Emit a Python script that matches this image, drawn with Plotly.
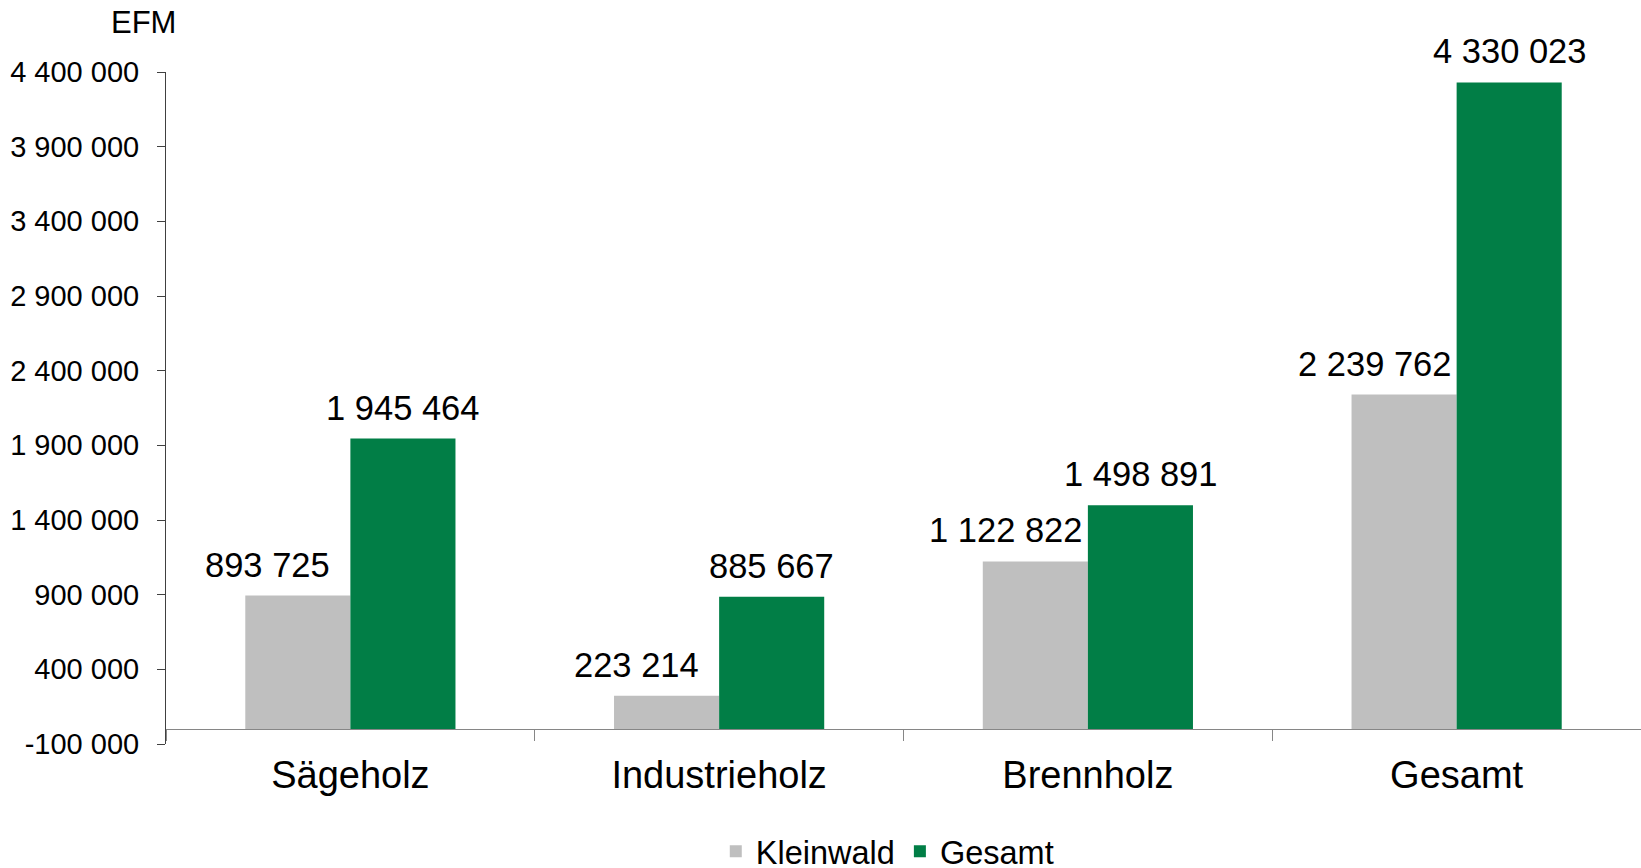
import plotly.graph_objects as go

categories = ["Sägeholz", "Industrieholz", "Brennholz", "Gesamt"]
kleinwald = [893725, 223214, 1122822, 2239762]
gesamt = [1945464, 885667, 1498891, 4330023]
series_names = ["Kleinwald", "Gesamt"]
y_unit = "EFM"
tick_vals = [-100000, 400000, 900000, 1400000, 1900000, 2400000, 2900000, 3400000, 3900000, 4400000]


def fmt(v):
    s = f"{abs(v):,}".replace(",", " ")
    return ("-" if v < 0 else "") + s


tick_text = [fmt(v) for v in tick_vals]

FONT = "Liberation Sans, Arial, sans-serif"
GRAY = "#BFBFBF"
GREEN = "#017E46"

W, H = 1641, 868
ML, MR, MT, MB = 166, 0, 72, 124
BARGAP = 0.43
LABEL_NUDGE = [-30, 0]  # px, label nudge per series (as in the original layout)

fig = go.Figure()
series = [(series_names[0], kleinwald, GRAY), (series_names[1], gesamt, GREEN)]
for name, vals, col in series:
    fig.add_trace(go.Bar(
        name=name, x=categories, y=vals, marker_color=col, marker_line_width=0,
        hoverinfo="x+y",
    ))

# data labels on top of every bar (drawn above all bars)
cat_px = (W - ML - MR) / len(categories)
bar_px = cat_px * (1 - BARGAP) / len(series)
annotations = []
for i, (name, vals, col) in enumerate(series):
    shift = (i - (len(series) - 1) / 2) * bar_px + LABEL_NUDGE[i]
    for c, v in zip(categories, vals):
        annotations.append(dict(
            x=c, y=v, xref="x", yref="y", text=fmt(v), showarrow=False,
            xanchor="center", yanchor="bottom", xshift=shift, yshift=10,
            font=dict(size=34.5, family=FONT, color="#000000"),
        ))

annotations.append(dict(text=y_unit, xref="paper", yref="paper", x=-0.0386, xanchor="left",
                        y=1 + (72 - 23) / 672, yanchor="middle", showarrow=False,
                        font=dict(size=31, family=FONT, color="#000000")))

ymin, ymax = tick_vals[0], tick_vals[-1]
zero_pos = (0 - ymin) / (ymax - ymin)

fig.update_layout(
    width=W, height=H,
    margin=dict(l=ML, r=MR, t=MT, b=MB, autoexpand=False),
    paper_bgcolor="white", plot_bgcolor="white",
    barmode="group", bargap=BARGAP, bargroupgap=0,
    font=dict(family=FONT, color="#000000"),
    showlegend=True,
    legend=dict(orientation="h", x=0.489, xanchor="center", y=-0.160, yanchor="middle",
                font=dict(size=32.5, family=FONT), itemwidth=30, tracegroupgap=0),
    xaxis=dict(
        type="category", anchor="free", position=zero_pos,
        showline=True, linecolor="#868686", linewidth=1,
        ticks="outside", tickson="boundaries", ticklen=11, tickcolor="#868686",
        tickfont=dict(size=38, family=FONT), ticklabelstandoff=12,
        showgrid=False, zeroline=False,
    ),
    yaxis=dict(
        range=[ymin, ymax], tickvals=tick_vals, ticktext=tick_text,
        showline=True, linecolor="#404040", linewidth=1,
        ticks="outside", ticklen=8, tickcolor="#404040",
        tickfont=dict(size=29, family=FONT), ticklabelstandoff=12,
        showgrid=False, zeroline=False,
    ),
    annotations=annotations,
)

fig.write_html("out.html", config={"displayModeBar": False},
               post_script="document.body.style.margin='0';document.body.style.overflow='hidden';")
